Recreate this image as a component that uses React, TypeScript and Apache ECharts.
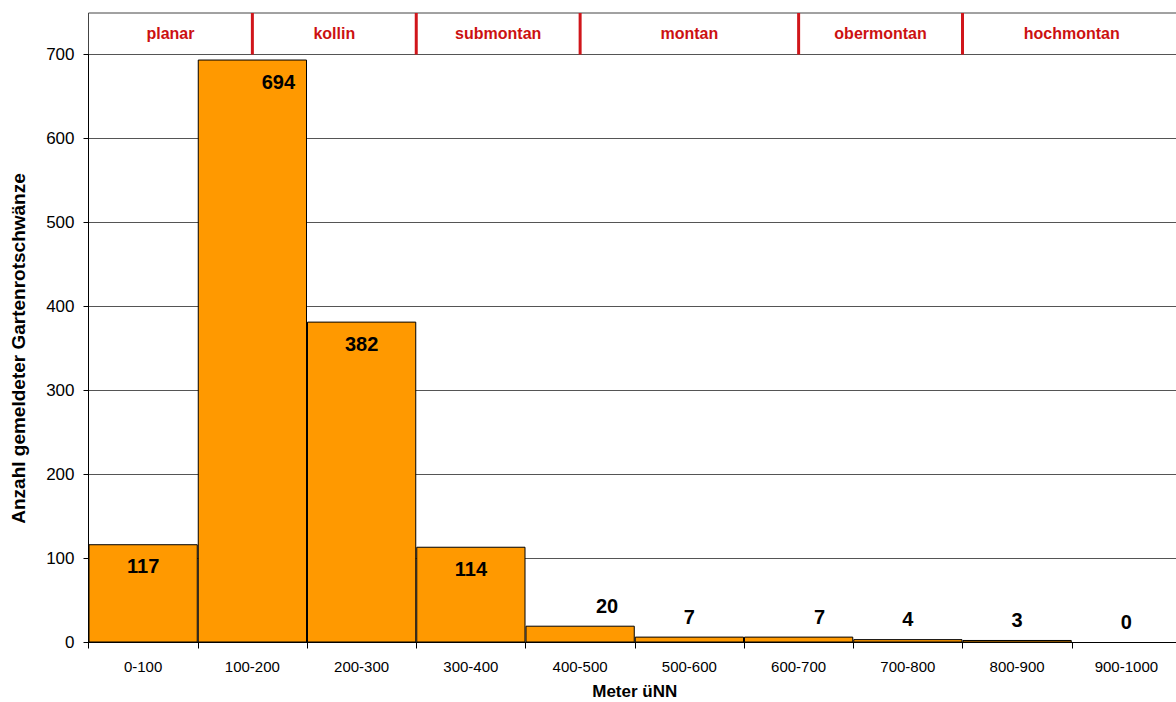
import React, { useEffect, useRef } from "react";
import * as echarts from "echarts";

const categories = ["0-100", "100-200", "200-300", "300-400", "400-500", "500-600", "600-700", "700-800", "800-900", "900-1000"];
const counts = [117, 694, 382, 114, 20, 7, 7, 4, 3, 0];
const yTicks = { min: 0, max: 700, interval: 100 };
const zoneNames = ["planar", "kollin", "submontan", "montan", "obermontan", "hochmontan"];
const zoneStarts = [0, 150, 300, 450, 650, 800];
const zoneEnds = [150, 300, 450, 650, 800, 1000];
const yTitle = "Anzahl gemeldeter Gartenrotschwänze";
const xTitle = "Meter üNN";

// label horizontal nudges (styling only)
const labelDx = [0, 26, 0, 0, 27, 0, 21, 0, 0, 0];

const FONT = "'Liberation Sans', Arial, sans-serif";

export default function App() {
  const ref = useRef<HTMLDivElement>(null);
  useEffect(() => {
    if (!ref.current) return;
    const chart = echarts.init(ref.current, undefined, { renderer: "svg" });
    const barData = counts.map((v, i) => {
      const small = v < 50;
      return {
        value: v,
        label: {
          show: true,
          position: small ? "top" : "insideTop",
          distance: small ? 10 : 12,
          offset: [labelDx[i], 0],
        },
      };
    });
    const zoneData = zoneNames.map((n, i) => [zoneStarts[i], zoneEnds[i], n]);
    chart.setOption({
      animation: false,
      textStyle: { fontFamily: FONT },
      grid: [
        { left: 88.5, right: -5, top: 54.5, bottom: 59.5, show: false, outerBoundsMode: "none", containLabel: false },
        {
          left: 88.5,
          right: -5,
          top: 13,
          height: 41.5,
          show: true,
          borderColor: "#444",
          borderWidth: 1,
          backgroundColor: "#fff",
          outerBoundsMode: "none",
          containLabel: false,
        },
      ],
      xAxis: [
        {
          type: "category",
          gridIndex: 0,
          data: categories,
          axisLine: { show: true, lineStyle: { color: "#000", width: 1 } },
          axisTick: { show: true, length: 6, alignWithLabel: false, lineStyle: { color: "#000" } },
          axisLabel: { fontSize: 15, color: "#000", margin: 16, fontFamily: FONT, interval: 0 },
          name: xTitle,
          nameLocation: "middle",
          nameGap: 40,
          nameTextStyle: { fontSize: 17, fontWeight: "bold", color: "#000", fontFamily: FONT },
        },
        { type: "value", gridIndex: 1, min: 0, max: 1000, show: false },
      ],
      yAxis: [
        {
          type: "value",
          gridIndex: 0,
          min: yTicks.min,
          max: yTicks.max,
          interval: yTicks.interval,
          axisLine: { show: true, lineStyle: { color: "#000", width: 1 } },
          axisTick: { show: true, length: 5, lineStyle: { color: "#000" } },
          axisLabel: { fontSize: 17, color: "#000", margin: 14, fontFamily: FONT },
          splitLine: { show: true, lineStyle: { color: "#555", width: 1 } },
          name: yTitle,
          nameLocation: "middle",
          nameGap: 61,
          nameRotate: 90,
          nameTextStyle: { fontSize: 19, fontWeight: "bold", color: "#000", fontFamily: FONT },
        },
        { type: "value", gridIndex: 1, min: 0, max: 1, show: false },
      ],
      series: [
        {
          type: "bar",
          xAxisIndex: 0,
          yAxisIndex: 0,
          data: barData,
          barCategoryGap: "0%",
          itemStyle: { color: "#FF9900", borderColor: "#000", borderWidth: 1 },
          label: {
            show: true,
            fontSize: 20,
            fontWeight: "bold",
            color: "#000",
            fontFamily: FONT,
          },
        },
        {
          type: "custom",
          xAxisIndex: 1,
          yAxisIndex: 1,
          data: zoneData,
          silent: true,
          renderItem: (params: any, api: any) => {
            const s = api.value(0);
            const e = api.value(1);
            const name = zoneNames[params.dataIndex];
            const pTop = api.coord([s, 1]);
            const pBot = api.coord([s, 0]);
            const pEnd = api.coord([e, 0]);
            const children: any[] = [
              {
                type: "text",
                x: (pBot[0] + pEnd[0]) / 2,
                y: (pTop[1] + pBot[1]) / 2,
                style: {
                  text: name,
                  fill: "#CC1111",
                  fontSize: 16,
                  fontWeight: "bold",
                  fontFamily: FONT,
                  align: "center",
                  verticalAlign: "middle",
                },
              },
            ];
            if (s > 0) {
              children.push({
                type: "line",
                shape: { x1: pTop[0], y1: pTop[1], x2: pBot[0], y2: pBot[1] },
                style: { stroke: "#D0161B", lineWidth: 3 },
              });
            }
            return { type: "group", children };
          },
        },
      ],
    });
    return () => chart.dispose();
  }, []);
  return (
    <div
      ref={ref}
      style={{ position: "fixed", left: 0, top: 0, width: 1176, height: 702, background: "#fff" }}
    />
  );
}
